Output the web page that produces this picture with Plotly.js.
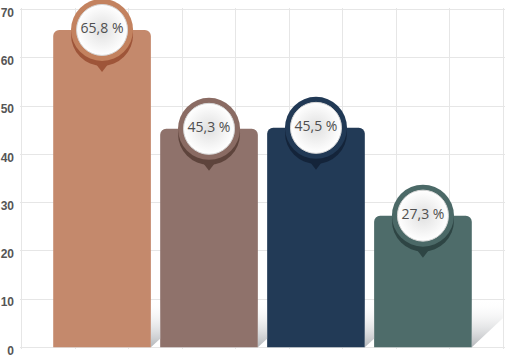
<!DOCTYPE html>
<html><head><meta charset="utf-8">
<script src="https://cdn.plot.ly/plotly-3.0.1.min.js"></script>
<style>html,body{margin:0;padding:0;background:#fff}#chart{width:505px;height:357px}</style>
</head><body><div id="chart"></div>
<script>
const categories = ["A", "B", "C", "D"];
const values = [65.8, 45.3, 45.5, 27.3];
const labels = ["65,8 %", "45,3 %", "45,5 %", "27,3 %"];
const barColors = ["#C4896C", "#8F726B", "#223A56", "#4E6C6A"];
const ringColors = ["#C3825F", "#8A6B63", "#213955", "#4B6967"];
const darkColors = ["#9E5539", "#5E443C", "#14243A", "#2E4544"];
const yTicks = [0, 10, 20, 30, 40, 50, 60, 70];

const xs = categories.map((c, i) => i);
const barGap = 0.087;
const barW = 1 - barGap;

const traces = [];
// soft shadows to the right of each bar
xs.forEach((x, i) => {
  const xr = x + barW / 2;
  const last = i === xs.length - 1;
  const e = last ? 0.29 : barGap;
  const slope = 6 / 0.29;
  traces.push({
    type: 'scatter', mode: 'none', fill: 'toself',
    x: [xr, xr + e, xr + e, xr, xr],
    y: [0, e * slope, last ? 9.6 : 10, 10, 0],
    fillgradient: {type: 'vertical', colorscale: [[0, 'rgba(175,178,182,0.95)'], [1, 'rgba(255,255,255,0)']]},
    hoverinfo: 'skip', showlegend: false
  });
});
traces.push({
  type: 'bar', x: xs, y: values, width: barW,
  marker: {color: barColors, cornerradius: 6, line: {width: 0}},
  text: categories, textposition: 'none', hoverinfo: 'y', showlegend: false
});
traces.push({
  type: 'scatter', mode: 'markers', x: xs, y: values, cliponaxis: false, hoverinfo: 'skip', showlegend: false,
  marker: {symbol: 'circle', size: 62, color: darkColors, standoff: 5, angle: 0, line: {width: 0}}
});
traces.push({
  type: 'scatter', mode: 'markers', x: xs, y: values, cliponaxis: false, hoverinfo: 'skip', showlegend: false,
  marker: {symbol: 'triangle-down', size: 32, color: darkColors, standoff: 26, angle: 0, line: {width: 0}}
});
traces.push({
  type: 'scatter', mode: 'markers', x: xs, y: values, cliponaxis: false, hoverinfo: 'skip', showlegend: false,
  marker: {symbol: 'circle', size: 62, color: ringColors, line: {width: 0}}
});
traces.push({
  type: 'scatter', mode: 'markers+text', x: xs, y: values, cliponaxis: false, hoverinfo: 'skip', showlegend: false,
  text: labels, textposition: 'middle center',
  textfont: {family: 'Open Sans, sans-serif', size: 14, color: '#4f4f4f'},
  marker: {symbol: 'circle', size: 51, color: '#ffffff', gradient: {type: 'radial', color: '#e0e0e0'}, line: {color: '#d6d6d6', width: 1}}
});

const layout = {
  width: 505, height: 357,
  margin: {l: 20, r: 0, t: 8, b: 8},
  paper_bgcolor: '#fff', plot_bgcolor: '#fff',
  showlegend: false,
  xaxis: {type: 'linear', range: [-0.767, 3.767], tick0: -0.75, dtick: 0.5, showgrid: true, gridcolor: '#e6e6e6', gridwidth: 1,
          showticklabels: false, zeroline: false, showline: false, ticks: '', fixedrange: true},
  yaxis: {range: [-0.35, 70.35], tickvals: yTicks, ticktext: yTicks.map(String), showgrid: true, gridcolor: '#e6e6e6', gridwidth: 1,
          zeroline: false, showline: false, ticks: '', ticklabelshift: 3, ticklabelstandoff: 5, ticklabeloverflow: 'allow',
          tickfont: {family: 'Liberation Sans, Arial, sans-serif', size: 12, color: '#555', weight: 'bold'}, fixedrange: true}
};
Plotly.newPlot('chart', traces, layout, {displayModeBar: false, staticPlot: true});
</script></body></html>
